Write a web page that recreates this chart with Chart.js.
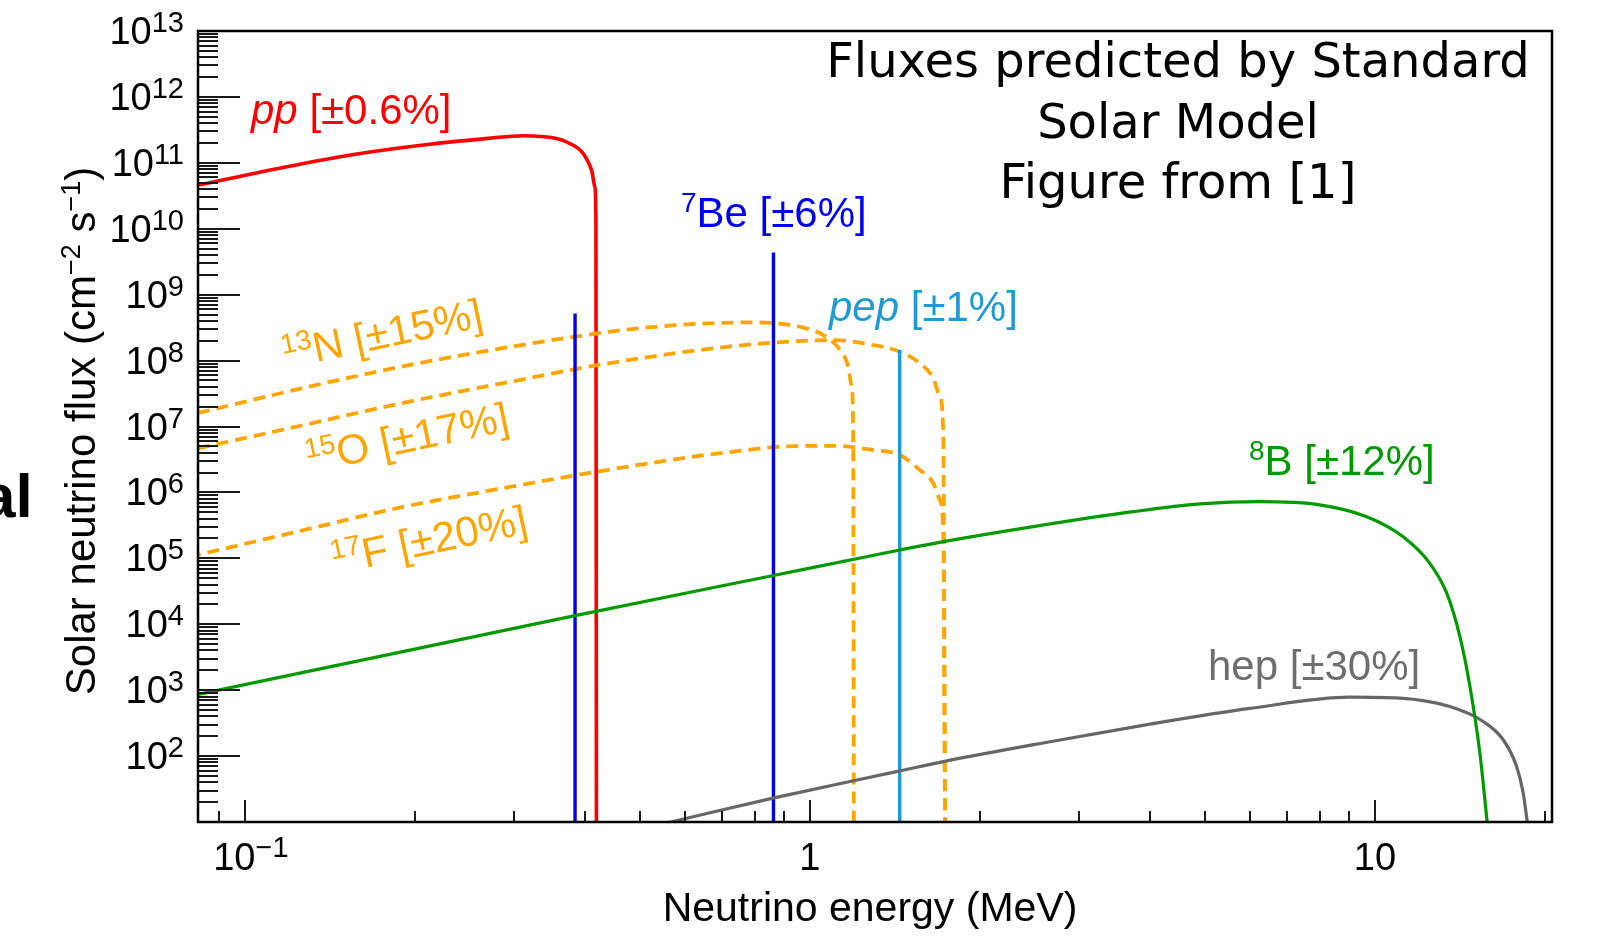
<!DOCTYPE html>
<html>
<head>
<meta charset="utf-8">
<script src="https://cdn.jsdelivr.net/npm/chart.js@4.4.1/dist/chart.umd.min.js"></script>
<style>
html,body{margin:0;padding:0;background:#fff;overflow:hidden;}
#wrap{position:relative;width:1609px;height:946px;background:#fff;}
#c{position:absolute;left:0;top:0;}
#side{position:absolute;left:-19px;top:465px;font:bold 62px "Liberation Sans",Arial,sans-serif;line-height:62px;color:#000;white-space:nowrap;}
#note{position:absolute;left:778px;top:30px;width:800px;text-align:center;font:48px "DejaVu Sans",sans-serif;line-height:60.5px;color:#000;white-space:nowrap;}
</style>
</head>
<body>
<div id="wrap">
<canvas id="c" width="1609" height="946"></canvas>
<div id="side">al</div>
<div id="note">Fluxes predicted by Standard<br>Solar Model<br>Figure from [1]</div>
</div>
<script>
// ---------------- data ----------------
const ppEnergy = [0.0826, 0.12, 0.158, 0.207, 0.272, 0.31, 0.356, 0.371, 0.397, 0.4108, 0.4163, 0.4181, 0.4189];
const ppFlux   = [4.6e10, 8.9e10, 1.36e11, 1.86e11, 2.37e11, 2.58e11, 2.34e11, 2.07e11, 1.38e11, 7.7e10, 4.3e10, 1.35e10, 10];

const n13Energy = [0.0826, 0.1237, 0.1914, 0.296, 0.42, 0.50, 0.639, 0.80, 0.85, 0.96, 1.056, 1.13, 1.169, 1.185, 1.193, 1.196];
const n13Flux   = [1.6e7, 3.66e7, 8.26e7, 1.62e8, 2.58e8, 3.1e8, 3.63e8, 3.8e8, 3.74e8, 3.26e8, 2.44e8, 1.45e8, 8.06e7, 4.0e7, 7.9e6, 10];

const o15Energy = [0.0826, 0.1237, 0.1914, 0.296, 0.42, 0.639, 0.85, 1.10, 1.294, 1.443, 1.565, 1.653, 1.698, 1.722, 1.734];
const o15Flux   = [4.67e6, 1.0e7, 2.3e7, 4.8e7, 8.5e7, 1.45e8, 1.86e8, 2.05e8, 1.72e8, 1.36e8, 9.1e7, 5.4e7, 2.8e7, 7.9e6, 10];

const f17Energy = [0.0826, 0.1237, 0.1914, 0.296, 0.42, 0.639, 0.774, 0.85, 1.10, 1.294, 1.443, 1.565, 1.653, 1.698, 1.722, 1.735];
const f17Flux   = [1.13e5, 2.54e5, 6.08e5, 1.22e6, 2.06e6, 3.6e6, 4.4e6, 4.83e6, 5.1e6, 4.4e6, 3.7e6, 2.19e6, 1.38e6, 7.7e5, 2.4e5, 10];

const b8Energy = [0.0826, 0.384, 0.862, 1.443, 1.722, 2.485, 3.735, 4.90, 6.26, 7.88, 9.67, 11.22, 12.51, 13.40, 14.14, 14.73, 15.34, 15.8];
const b8Flux   = [860, 1.35e4, 5.5e4, 1.34e5, 1.79e5, 3.03e5, 5.1e5, 6.68e5, 7.25e5, 6.6e5, 4.29e5, 2.13e5, 8.4e4, 2.96e4, 6.5e3, 1.14e3, 111, 10];

const hepEnergy = [0.567, 0.86, 1.43, 1.73, 2.66, 4.0, 6.01, 9.03, 11.07, 13.57, 15.55, 16.87, 17.81, 18.30, 18.61];
const hepFlux   = [10, 23, 58.5, 83, 165, 305, 528, 785, 759, 565, 335, 177, 70, 27.5, 10];

// mono-energetic lines: energy and top flux
const be7Energy = [0.384, 0.862];
const be7Flux   = [5.2e8, 4.36e9];
const pepEnergy = [1.442];
const pepFlux   = [1.45e8];

// axes
const xRange = [0.0826, 20.58];
const yRange = [10, 1e13];
const yTickValues = [1e2,1e3,1e4,1e5,1e6,1e7,1e8,1e9,1e10,1e11,1e12,1e13];
const yTickExps   = ['2','3','4','5','6','7','8','9','10','11','12','13'];
const xTickValues = [0.1, 1, 10];
const xTickBases  = ['10', '1', '10'];
const xTickSups   = ['\u22121', '', ''];

// ---------------- helpers ----------------
function xy(es, fs) { return es.map((e, i) => ({x: e, y: fs[i]})); }
function vline(e, top) { return [{x: e, y: yRange[0]}, {x: e, y: top}]; }

const C_RED = '#ff0000', C_BLUE = '#0000f0', C_PEP = '#1e9bd4', C_OR = '#ffa500', C_GREEN = '#009a00', C_HEP = '#666666';
const DASH = [12, 7];

const curve = (data, color, order, extra) => Object.assign({
  data, borderColor: color, backgroundColor: color, borderWidth: 3.2,
  pointRadius: 0, fill: false, cubicInterpolationMode: 'monotone', order
}, extra || {});
const line = (data, color, order) => ({
  data, borderColor: color, backgroundColor: color, borderWidth: 3.4,
  pointRadius: 0, fill: false, tension: 0, order
});

const datasets = [
  curve(xy(ppEnergy, ppFlux), C_RED, 10, {borderWidth: 3.6}),
  curve(xy(n13Energy, n13Flux), C_OR, 8, {borderDash: DASH, borderWidth: 3.8}),
  curve(xy(o15Energy, o15Flux), C_OR, 8, {borderDash: DASH, borderWidth: 3.8}),
  curve(xy(f17Energy, f17Flux), C_OR, 8, {borderDash: DASH, borderWidth: 3.8}),
  line(vline(be7Energy[0], be7Flux[0]), C_BLUE, 6),
  line(vline(be7Energy[1], be7Flux[1]), C_BLUE, 6),
  line(vline(pepEnergy[0], pepFlux[0]), C_PEP, 5),
  curve(xy(hepEnergy, hepFlux), C_HEP, 4),
  curve(xy(b8Energy, b8Flux), C_GREEN, 3)
];

// rich text: segments {t, sup, it}
function richWidth(ctx, segs, size, family) {
  let w = 0;
  segs.forEach(s => {
    const fs = s.sup ? (s.supSize || size * 0.65) : size;
    ctx.font = (s.it ? 'italic ' : '') + fs + 'px ' + family;
    w += ctx.measureText(s.t).width;
  });
  return w;
}
function drawRich(ctx, segs, x, y, size, family, color, align, raise) {
  const w = richWidth(ctx, segs, size, family);
  let x0 = align === 'right' ? x - w : (align === 'center' ? x - w / 2 : x);
  ctx.fillStyle = color;
  ctx.textAlign = 'left';
  ctx.textBaseline = 'alphabetic';
  segs.forEach(s => {
    const fs = s.sup ? (s.supSize || size * 0.65) : size;
    ctx.font = (s.it ? 'italic ' : '') + fs + 'px ' + family;
    ctx.fillText(s.t, x0, s.sup ? y - (raise != null ? raise : size * 0.36) : y);
    x0 += ctx.measureText(s.t).width;
  });
}

const FAM = '"Liberation Sans", Arial, Helvetica, sans-serif';

const decor = {
  id: 'decor',
  afterDatasetsDraw(chart) {
    const ctx = chart.ctx, a = chart.chartArea;
    const xs = chart.scales.x, ys = chart.scales.y;
    ctx.save();
    // ticks
    ctx.strokeStyle = '#1a1a1a';
    ctx.lineWidth = 2;
    ctx.beginPath();
    for (let k = 1; k <= 12; k++) {
      for (let m = 1; m <= 9; m++) {
        const v = m * Math.pow(10, k);
        if (v <= yRange[0] || v >= yRange[1]) continue;
        const py = Math.round(ys.getPixelForValue(v));
        const len = m === 1 ? 42 : 20;
        ctx.moveTo(a.left, py); ctx.lineTo(a.left + len, py);
      }
    }
    for (let k = -2; k <= 1; k++) {
      for (let m = 1; m <= 9; m++) {
        const v = m * Math.pow(10, k);
        if (v <= xRange[0] || v >= xRange[1]) continue;
        const px = Math.round(xs.getPixelForValue(v));
        const len = m === 1 ? 22 : 11;
        ctx.moveTo(px, a.bottom); ctx.lineTo(px, a.bottom - len);
      }
    }
    ctx.stroke();
    // frame
    ctx.strokeStyle = '#000';
    ctx.lineWidth = 2.5;
    ctx.strokeRect(a.left, a.top, a.right - a.left, a.bottom - a.top);

    // y tick labels
    yTickValues.forEach((v, i) => {
      const py = ys.getPixelForValue(v);
      drawRich(ctx, [{t: '10'}, {t: yTickExps[i], sup: true, supSize: 29}], 184, py + 13, 38, FAM, '#000', 'right', 12);
    });
    // x tick labels
    xTickValues.forEach((v, i) => {
      const px = xs.getPixelForValue(v);
      const segs = [{t: xTickBases[i]}];
      if (xTickSups[i]) segs.push({t: xTickSups[i], sup: true, supSize: 29});
      drawRich(ctx, segs, px + (xTickSups[i] ? 6 : 0), 870, 38, FAM, '#000', 'center', 13);
    });
    // axis titles
    ctx.fillStyle = '#000';
    ctx.font = '41px ' + FAM;
    ctx.textAlign = 'center';
    ctx.textBaseline = 'alphabetic';
    ctx.fillText('Neutrino energy (MeV)', 870, 921);
    ctx.save();
    ctx.translate(95, 431);
    ctx.rotate(-Math.PI / 2);
    drawRich(ctx, [{t: 'Solar neutrino flux (cm'}, {t: '\u22122', sup: true, supSize: 27}, {t: ' s'}, {t: '\u22121', sup: true, supSize: 27}, {t: ')'}], 0, 0, 42, FAM, '#000', 'center', 15);
    ctx.restore();

    // curve labels
    drawRich(ctx, [{t: 'pp', it: true}, {t: ' [\u00b10.6%]'}], 251, 124, 42, FAM, C_RED, 'left', 15);
    drawRich(ctx, [{t: '7', sup: true, supSize: 28}, {t: 'Be [\u00b16%]'}], 681, 227, 42, FAM, C_BLUE, 'left', 15);
    drawRich(ctx, [{t: 'pep', it: true}, {t: ' [\u00b11%]'}], 829, 321, 42, FAM, C_PEP, 'left', 15);
    drawRich(ctx, [{t: '8', sup: true, supSize: 28}, {t: 'B [\u00b112%]'}], 1249, 475, 42, FAM, C_GREEN, 'left', 15);
    drawRich(ctx, [{t: 'hep [\u00b130%]'}], 1208, 680, 42, FAM, '#6e6e6e', 'left', 15);

    const rot = [
      {segs: [{t: '13', sup: true, supSize: 28}, {t: 'N [\u00b115%]'}], cx: 382, cy: 333},
      {segs: [{t: '15', sup: true, supSize: 28}, {t: 'O [\u00b117%]'}], cx: 407, cy: 437},
      {segs: [{t: '17', sup: true, supSize: 28}, {t: 'F [\u00b120%]'}], cx: 429, cy: 539}
    ];
    rot.forEach(r => {
      ctx.save();
      ctx.translate(r.cx, r.cy);
      ctx.rotate(-12 * Math.PI / 180);
      drawRich(ctx, r.segs, 0, 15, 42, FAM, C_OR, 'center', 15);
      ctx.restore();
    });
    ctx.restore();
  }
};

const chart = new Chart(document.getElementById('c'), {
  type: 'line',
  data: { datasets },
  options: {
    responsive: false,
    animation: false,
    events: [],
    layout: { padding: { left: 198, top: 31, right: 57, bottom: 124 } },
    plugins: { legend: { display: false }, tooltip: { enabled: false }, title: { display: false } },
    scales: {
      x: { type: 'logarithmic', min: xRange[0], max: xRange[1], display: false },
      y: { type: 'logarithmic', min: yRange[0], max: yRange[1], display: false }
    }
  },
  plugins: [decor]
});

// Align the dash phase of the 17F drop with the 15O drop (both fall at the same energy),
// so the shared vertical part stays dashed as in the original figure.
function lengthToY(meta, Y) {
  const pts = meta.data;
  if (meta.dataset && meta.dataset.updateControlPoints) meta.dataset.updateControlPoints(chart.chartArea, 'x');
  let L = 0;
  for (let i = 0; i < pts.length - 1; i++) {
    const p = pts[i], q = pts[i + 1];
    const c1x = isFinite(p.cp2x) ? p.cp2x : p.x, c1y = isFinite(p.cp2y) ? p.cp2y : p.y;
    const c2x = isFinite(q.cp1x) ? q.cp1x : q.x, c2y = isFinite(q.cp1y) ? q.cp1y : q.y;
    let px = p.x, py = p.y;
    for (let s = 1; s <= 400; s++) {
      const t = s / 400, u = 1 - t;
      const x = u*u*u*p.x + 3*u*u*t*c1x + 3*u*t*t*c2x + t*t*t*q.x;
      const y = u*u*u*p.y + 3*u*u*t*c1y + 3*u*t*t*c2y + t*t*t*q.y;
      const d = Math.hypot(x - px, y - py);
      if (y >= Y && py < Y) return L + d * (Y - py) / (y - py);
      L += d; px = x; py = y;
    }
  }
  return L;
}
try {
  const Y = 700;
  const l15 = lengthToY(chart.getDatasetMeta(2), Y);
  const l17 = lengthToY(chart.getDatasetMeta(3), Y);
  const period = DASH[0] + DASH[1];
  const off = (((l15 - l17) % period) + period) % period;
  chart.data.datasets[3].borderDashOffset = off;
  chart.update();
} catch (e) { console.log(e); }
</script>
</body>
</html>
